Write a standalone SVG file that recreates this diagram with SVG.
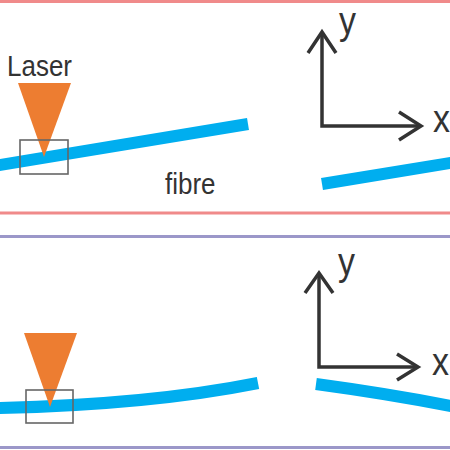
<svg xmlns="http://www.w3.org/2000/svg" width="450" height="450" viewBox="0 0 450 450">
<style>
.frameA{stroke:#f08a8a;stroke-width:3}
.frameB{stroke:#9b97c9;stroke-width:3}
.fibre{fill:none;stroke:#00aeef;stroke-width:12;stroke-linecap:butt}
.laser{fill:#ed7d31}
.spot{fill:none;stroke:#666;stroke-width:1.6}
.axis{fill:none;stroke:#333;stroke-width:3.5;stroke-linejoin:miter}
.lbl{font-family:"Liberation Sans",Arial,sans-serif;fill:#333}
</style>
<rect width="450" height="450" fill="#fff"/>
<g id="frames">
<line class="frameA" x1="0" y1="1.5" x2="450" y2="1.5"/>
<line class="frameA" x1="0" y1="213" x2="450" y2="213"/>
<line class="frameB" x1="0" y1="236.5" x2="450" y2="236.5"/>
<line class="frameB" x1="0" y1="447.5" x2="450" y2="447.5"/>
</g>
<g id="top-panel">
<g id="top-fibre-left"><line class="fibre" x1="-5" y1="165.8" x2="248" y2="124"/></g>
<g id="top-fibre-right"><line class="fibre" x1="322" y1="184" x2="456" y2="162"/></g>
<g id="top-laser">
<polygon class="laser" points="18,83 71,83 44,157"/>
<rect class="spot" x="20" y="140" width="48" height="34"/>
<text class="lbl" font-size="26" transform="translate(7,76) scale(1,1.15)">Laser</text>
</g>
<g id="top-label"><text class="lbl" font-size="26" transform="translate(165,194) scale(1,1.15)">fibre</text></g>
<g id="top-axes">
<polyline class="axis" points="322,33 322,126 420,126"/>
<polyline class="axis" points="308,53 322,32 336,53"/>
<polyline class="axis" points="399,112 421,126 399,140"/>
<text class="lbl" font-size="34" transform="translate(339,34) scale(1,1.15)">y</text>
<text class="lbl" font-size="34" transform="translate(433,132) scale(1,1.15)">x</text>
</g>
</g>
<g id="bottom-panel">
<g id="bottom-fibre-left"><path class="fibre" d="M-5,408 Q148,405 258,383"/></g>
<g id="bottom-fibre-right"><path class="fibre" d="M316,384 Q390,394 456,407"/></g>
<g id="bottom-laser">
<polygon class="laser" points="24,333 77,333 50,407"/>
<rect class="spot" x="26" y="390" width="47" height="33"/>
</g>
<g id="bottom-axes">
<polyline class="axis" points="319,274 319,367 416,367"/>
<polyline class="axis" points="305,293 319,273 333,293"/>
<polyline class="axis" points="397,354 418,367 397,380"/>
<text class="lbl" font-size="34" transform="translate(338,275) scale(1,1.15)">y</text>
<text class="lbl" font-size="34" transform="translate(432,375) scale(1,1.15)">x</text>
</g>
</g>
</svg>
